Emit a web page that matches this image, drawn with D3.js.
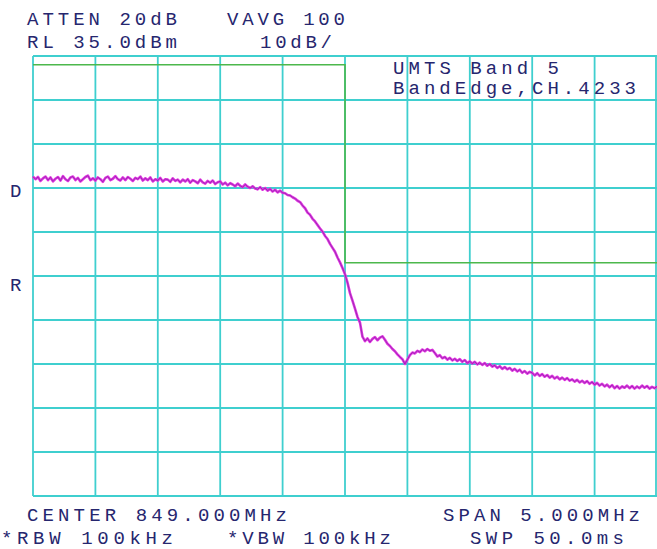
<!DOCTYPE html>
<html>
<head>
<meta charset="utf-8">
<script src="https://cdn.jsdelivr.net/npm/d3@7"></script>
<style>
html,body{margin:0;padding:0;background:#fff;}
svg{display:block;}
</style>
</head>
<body>
<svg id="chart" width="657" height="549"></svg>
<script>
// ---- data ----
const freqStart = 846.5, freqStop = 851.5;   // MHz (center 849, span 5)
const refLevel = 35, dbPerDiv = 10, nDivY = 10, nDivX = 10;
const traceDbm = [
  7.6, 7.0, 7.5, 6.6, 7.2, 7.6, 6.8, 7.4, 6.5, 7.1,
  7.5, 6.7, 7.7, 7.0, 6.6, 7.4, 7.6, 6.8, 7.3, 6.5,
  7.0, 7.5, 7.8, 6.8, 7.2, 6.7, 7.4, 7.0, 6.4, 7.3,
  7.6, 6.8, 7.1, 7.7, 7.0, 6.7, 7.4, 6.8, 7.5, 7.1,
  6.6, 7.3, 7.0, 7.6, 6.7, 7.2, 6.8, 7.4, 6.5, 7.0,
  6.7, 7.3, 6.5, 7.0, 6.9, 6.4, 7.2, 6.6, 6.9, 6.3,
  6.9, 6.5, 7.0, 6.2, 6.8, 6.5, 6.1, 6.9, 6.3, 6.0,
  6.6, 6.2, 6.7, 5.9, 6.3, 6.5, 5.8, 6.2, 5.6, 6.1,
  5.8, 5.4, 6.0, 5.5, 5.2, 5.8, 5.3, 5.0, 5.4, 4.9,
  4.7, 5.2, 4.6, 5.0, 4.4, 4.8, 4.2, 4.6, 4.0, 4.4,
  3.9, 3.8, 3.4, 3.3, 2.9, 2.6, 2.1, 1.8, 1.0, 0.4,
  -0.6, -1.1, -2.0, -2.6, -3.4, -4.2, -4.9, -5.9, -6.6, -7.7,
  -8.6, -9.5, -10.8, -11.9, -13.2, -14.6, -16.5, -18.9, -20.6, -22.4,
  -24.3, -25.6, -28.8, -29.8, -29.2, -30.0, -29.3, -28.9, -29.6, -29.0,
  -28.7, -29.5, -30.4, -30.9, -31.6, -32.1, -32.8, -33.4, -33.9, -35.0,
  -34.0, -33.0, -32.4, -32.6, -32.0, -32.3, -31.7, -32.1, -31.6, -32.0,
  -31.8, -32.5, -33.3, -33.0, -33.7, -33.4, -34.0, -33.6, -34.2, -33.8,
  -34.3, -33.9, -34.5, -34.1, -34.8, -34.4, -34.9, -34.5, -35.1, -34.7,
  -35.2, -34.8, -35.4, -35.0, -35.6, -35.3, -35.9, -35.5, -36.1, -35.7,
  -36.2, -35.9, -36.5, -36.1, -36.7, -36.3, -37.0, -36.6, -37.2, -36.8,
  -37.0, -37.6, -37.1, -37.7, -37.3, -37.9, -37.5, -38.1, -37.7, -38.3,
  -37.9, -38.5, -38.1, -38.6, -38.2, -38.8, -38.5, -39.0, -38.6, -39.2,
  -38.8, -39.3, -38.9, -39.5, -39.1, -39.7, -39.3, -39.9, -39.5, -40.1,
  -39.7, -40.3, -39.8, -40.5, -40.0, -40.6, -40.1, -40.4, -39.9, -40.5,
  -40.0, -40.6, -40.1, -40.5, -39.9, -40.4, -40.0, -40.6, -40.2, -40.5,
  -40.1
];
const limitFreq = [846.5, 849.0, 849.0, 851.5];
const limitDbm  = [33, 33, -12, -12];
const headerLabels = ["ATTEN 20dB", "VAVG 100", "RL 35.0dBm", "10dB/"];
const noteLabels = ["UMTS Band 5", "BandEdge,CH.4233"];
const footerLabels = ["CENTER 849.000MHz", "SPAN 5.000MHz", "*RBW 100kHz", "*VBW 100kHz", "SWP 50.0ms"];
const sideLabels = ["D", "R"];

// ---- layout ----
const svg = d3.select("#chart");
const L = 33, R = 657, T = 56, B = 496;
const x = d3.scaleLinear().domain([freqStart, freqStop]).range([L, R]);
const y = d3.scaleLinear().domain([refLevel - dbPerDiv * nDivY, refLevel]).range([B, T]);

const gridColor = "#3fcfcf";
const xTicks = d3.range(nDivX + 1).map(i => freqStart + i * (freqStop - freqStart) / nDivX);
const yTicks = d3.range(nDivY + 1).map(i => refLevel - i * dbPerDiv);

const grid = svg.append("g");
grid.selectAll("line.v").data(xTicks).join("line")
  .attr("x1", d => Math.min(x(d), R - 1)).attr("x2", d => Math.min(x(d), R - 1))
  .attr("y1", T).attr("y2", B)
  .attr("stroke", gridColor).attr("stroke-width", 1.8);
grid.selectAll("line.h").data(yTicks).join("line")
  .attr("x1", L).attr("x2", R)
  .attr("y1", d => y(d)).attr("y2", d => y(d))
  .attr("stroke", gridColor).attr("stroke-width", 1.8);

// limit line
const limitLine = d3.line().x(d => x(d[0])).y(d => y(d[1]));
svg.append("path")
  .datum(limitFreq.map((f, i) => [f, limitDbm[i]]))
  .attr("d", limitLine)
  .attr("fill", "none").attr("stroke", "#4cb84c").attr("stroke-width", 1.6);

// trace
const nPts = traceDbm.length;
const traceData = traceDbm.map((v, i) => [freqStart + i * (freqStop - freqStart) / (nPts - 1), v]);
const traceLine = d3.line().x(d => x(d[0])).y(d => y(d[1]));
svg.append("path").datum(traceData).attr("d", traceLine)
  .attr("fill", "none").attr("stroke", "#e233e2").attr("stroke-width", 2.6)
  .attr("stroke-linejoin", "round");
svg.append("path").datum(traceData).attr("d", traceLine)
  .attr("fill", "none").attr("stroke", "#7e2aa0").attr("stroke-width", 0.9)
  .attr("stroke-linejoin", "round").attr("opacity", 0.75);

// text
const textColor = "#26266e";
function label(txt, tx, ty, len) {
  const t = svg.append("text").text(txt)
    .attr("x", tx).attr("y", ty)
    .attr("font-family", "Liberation Mono, DejaVu Sans Mono, monospace")
    .attr("font-size", 19).attr("fill", textColor);
  if (len) t.attr("textLength", len).attr("lengthAdjust", "spacing");
  return t;
}
label(headerLabels[0], 27, 25, 150);
label(headerLabels[1], 227, 25, 118);
label(headerLabels[2], 27, 48, 150);
label(headerLabels[3], 260, 48, 72);
label(noteLabels[0], 393, 74, 166);
label(noteLabels[1], 393, 94, 243);
label(footerLabels[0], 27, 521, 260);
label(footerLabels[1], 443, 521, 197);
label(footerLabels[2], 1, 544, 172);
label(footerLabels[3], 227, 544, 164);
label(footerLabels[4], 470, 544, 154);
label(sideLabels[0], 10, 197);
label(sideLabels[1], 10, 291);
</script>
</body>
</html>
